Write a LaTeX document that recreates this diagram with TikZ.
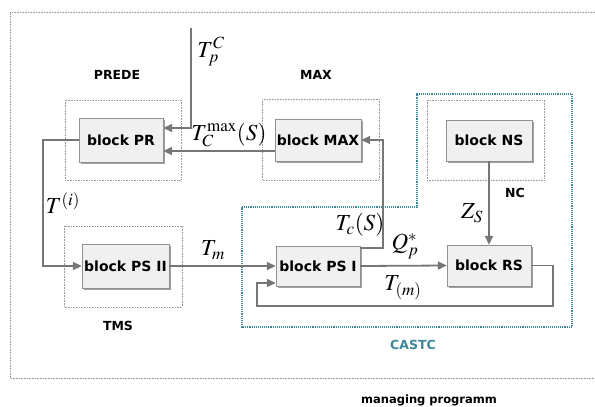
\documentclass[tikz,border=0pt]{standalone}
\usepackage{mathptmx}
\usepackage{fontspec}
\setsansfont{DejaVu Sans}
\usetikzlibrary{shadows,arrows.meta}
\definecolor{teal1}{HTML}{3E8797}
\definecolor{lineg}{HTML}{767676}
\begin{document}
\begin{tikzpicture}[x=1pt,y=-1pt,
  blk/.style={draw=lineg!80, fill=gray!12, minimum width=#1, minimum height=42pt, inner sep=0pt,
    font=\sffamily\bfseries\fontsize{14}{16}\selectfont,
    drop shadow={shadow xshift=2pt, shadow yshift=-2pt, fill=gray!75, opacity=1}},
  grp/.style={draw=gray!80, densely dotted, line width=0.6pt},
  conn/.style={draw=lineg, line width=1.8pt, -{Triangle[length=9pt,width=8pt]}},
  lbl/.style={font=\sffamily\bfseries\fontsize{12.5}{14}\selectfont},
  ml/.style={font=\fontsize{23}{25}\selectfont, inner sep=0pt}]
\useasboundingbox (0,0) rectangle (595,407);
% outer frame
\draw[grp] (595,12) -- (10,12) -- (10,378) -- (595,378);
% CASTC frame
\draw[draw=teal1, densely dotted, line width=1.1pt] (242,207) -- (417,207) -- (417,94) -- (572,94) -- (572,327) -- (242,327) -- cycle;
% group boxes
\draw[grp] (65,100) rectangle (181,180);
\draw[grp] (262,99) rectangle (379,180);
\draw[grp] (427,100) rectangle (544,180);
\draw[grp] (64,226) rectangle (182,307);
% blocks
\node[blk=84pt, minimum height=44pt] (PR) at (121,140) {block PR};
\node[blk=86pt] (MAX) at (318,140) {block MAX};
\node[blk=86pt, minimum height=41pt] (NS) at (489,140.5) {block NS};
\node[blk=87pt, minimum height=44pt] (PSII) at (125.5,266) {block PS II};
\node[blk=84pt, minimum height=40pt] (PSI) at (318,266) {block PS I};
\node[blk=84pt, minimum height=41pt] (RS) at (489,265.5) {block RS};
% labels
\node[lbl] (lprede) at (117,75) {PREDE};
\node[lbl] (lmax) at (316,75) {MAX};
\node[lbl] (lnc) at (515,193) {NC};
\node[lbl] (ltms) at (118,326) {TMS};
\node[lbl, text=teal1] (lcastc) at (413,345) {CASTC};
\node[lbl, font=\sffamily\bfseries\fontsize{11.5}{13}\selectfont] (lman) at (429,400) {managing programm};
% math labels
\node[ml] (mtpc) at (211,52) {$T_p^C$};
\node[ml] (mtcmax) at (229,135) {$T_C^{\max}(S)$};
\node[ml] (mti) at (63,203) {$T^{(i)}$};
\node[ml] (mtm) at (213,250) {$T_m$};
\node[ml] (mtcs) at (360,225) {$T_c(S)$};
\node[ml] (mzs) at (472,213) {$Z_S$};
\node[ml] (mqp) at (405,246) {$Q_p^*$};
\node[ml] (mtmm) at (403,288) {$T_{(m)}$};
% connectors
\coordinate (tpc) at (191,28);
\coordinate (tpcb) at (191,128);
\draw[conn] (tpc) -- (tpcb) -- (tpcb -| PR.east);
\draw[conn] ([yshift=-11pt]MAX.west) -- ([yshift=-11pt]PR.east);
\coordinate (tcr) at (383,248);
\draw[conn] (PSI.east |- tcr) -- (tcr) |- (MAX.east);
\draw[conn] (NS.south) -- (RS.north);
\coordinate (tic) at (43,140);
\draw[conn] (PR.west) -- (tic) |- (PSII.west);
\draw[conn] (PSII.east) -- (PSI.west);
\draw[conn] (PSI.east) -- (RS.west);
\coordinate (fb1) at (553,306);
\coordinate (fb2) at (257,283);
\draw[conn] (RS.east) -| (fb1) -| (fb2) -- (fb2 -| PSI.west);
\end{tikzpicture}
\end{document}
